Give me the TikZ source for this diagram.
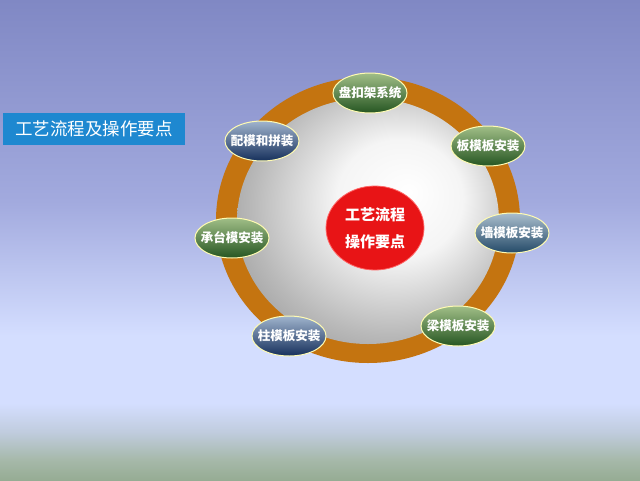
\documentclass[tikz,border=0pt]{standalone}
\usepackage{fontspec}
\newfontfamily\cjk{Noto Sans CJK SC}
\usetikzlibrary{shapes.geometric}

\definecolor{bgtop}{RGB}{128,136,196}
\definecolor{bgmid}{RGB}{162,170,222}
\definecolor{bglight}{RGB}{212,222,255}
\definecolor{bggrey}{RGB}{192,204,222}
\definecolor{bggreen}{RGB}{165,184,168}
\definecolor{bgbot}{RGB}{150,172,148}
\definecolor{ringorange}{RGB}{196,116,16}
\definecolor{titleblue}{RGB}{30,136,208}
\definecolor{hubred}{RGB}{232,20,22}
\definecolor{gtop}{RGB}{160,190,135}
\definecolor{gmid}{RGB}{60,110,48}
\definecolor{gbot}{RGB}{38,86,34}
\definecolor{btop}{RGB}{160,180,205}
\definecolor{bmid}{RGB}{34,72,122}
\definecolor{bbot}{RGB}{22,48,92}
\definecolor{ttop}{RGB}{170,190,205}
\definecolor{tmid}{RGB}{52,96,128}
\definecolor{tbot}{RGB}{36,74,104}

\pgfdeclareverticalshading{slidebg}{100bp}{color(0bp)=(bgbot); color(25bp)=(bgbot);
  color(27bp)=(bggreen); color(30bp)=(bggrey); color(33bp)=(bglight); color(40bp)=(bglight);
  color(54bp)=(bgmid); color(75bp)=(bgtop); color(100bp)=(bgtop)}
\pgfdeclareradialshading{greydisc}{\pgfpoint{8bp}{6bp}}{color(0bp)=(white); color(12bp)=(white!92!gray);
  color(26bp)=(gray!55); color(36bp)=(gray!85); color(50bp)=(gray!90)}

\tikzset{
  oval/.style={ellipse, draw=white!70!yellow, line width=1pt, minimum width=74pt,
    minimum height=40pt, inner xsep=-9pt, inner ysep=0pt, text=white,
    font=\cjk\bfseries\fontsize{12.5}{13}\selectfont},
  greenoval/.style={oval, top color=gtop, middle color=gmid, bottom color=gbot},
  blueoval/.style={oval, top color=btop, middle color=bmid, bottom color=bbot},
  tealoval/.style={oval, top color=ttop, middle color=tmid, bottom color=tbot}
}

\begin{document}
\begin{tikzpicture}[x=1pt,y=-1pt]
    \useasboundingbox (0,0) rectangle (640,480);
    \shade[shading=slidebg] (0,0) rectangle (640,480);

    % title bar
    \node[fill=titleblue, minimum width=182pt, minimum height=32pt, inner sep=0pt,
      text=white, font=\cjk\fontsize{17.5}{18}\selectfont] (title) at (94,129) {工艺流程及操作要点};

    % ring and disc
    \fill[ringorange] (368,220) ellipse (152 and 143);
    \shade[shading=greydisc] (368,221) ellipse (131 and 123);

    % hub
    \node[ellipse, fill=hubred, draw=red!60!white, line width=0.8pt, minimum width=98pt,
      minimum height=84pt, inner sep=0pt, text=white, align=center,
      font=\cjk\bfseries\fontsize{15}{27}\selectfont] (hub) at (375,228) {工艺流程\\操作要点};

    % steps round the ring
    \node[greenoval] (pankou) at (370,93) {盘扣架系统};
    \node[blueoval]  (peimo)  at (262,141) {配模和拼装};
    \node[greenoval] (banmo)  at (488,146) {板模板安装};
    \node[greenoval] (chengtai) at (232,238) {承台模安装};
    \node[tealoval]  (qiangmo) at (512,233) {墙模板安装};
    \node[blueoval]  (zhumo)  at (289,336) {柱模板安装};
    \node[greenoval] (liangmo) at (458,326) {梁模板安装};
\end{tikzpicture}
\end{document}
